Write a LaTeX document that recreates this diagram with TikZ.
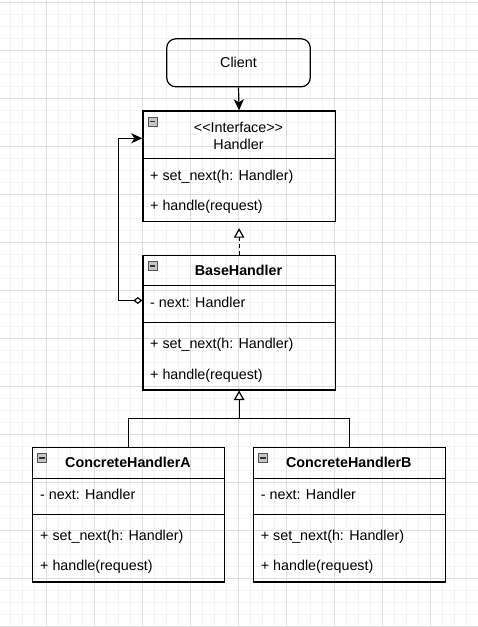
\documentclass[tikz,border=0pt]{standalone}
\usepackage{fontspec}
\setmainfont{Liberation Sans}[Ligatures=TeXOff]
\usetikzlibrary{arrows.meta}
\definecolor{gridmajor}{HTML}{DDDDDD}
\definecolor{gridminor}{HTML}{F3F3F3}
\newcommand\umlfont{\fontsize{14.3}{17}\selectfont}
\tikzset{
  gridminor/.style={draw=gridminor, line width=0.9pt},
  gridmajor/.style={draw=gridmajor, line width=0.9pt},
  classbox/.style={draw, line width=1.2pt, anchor=north west, inner sep=0pt},
  divider/.style={line width=1.2pt},
  member/.style={anchor=west, inner sep=0pt, font=\umlfont, text height=10pt, text depth=0pt},
  title/.style={inner sep=0pt, font=\umlfont, text height=10pt, text depth=0pt},
  assoc/.style={line width=1.2pt, -{Stealth[length=11pt,width=10pt,inset=3pt]}},
  realize/.style={line width=1.2pt, dash pattern=on 4pt off 3pt,
    -{Triangle[fill=white,length=9.5pt,width=10.5pt]}},
  inherit/.style={line width=1.2pt, -{Triangle[fill=white,length=9.5pt,width=10.5pt]}},
  aggr/.style={line width=1.2pt,
    {Diamond[fill=white,length=9pt,width=7pt]}-{Stealth[length=11pt,width=10pt,inset=3pt]}},
  collapse/.pic={
    \draw[draw=gray!65!black, fill=gray!45, line width=0.6pt] (5.5,6.7) rectangle (14.7,15.5);
    \draw[line width=1.3pt, draw=black!80] (7.3,11.1) -- (12.9,11.1);
  }
}
\begin{document}
\begin{tikzpicture}[x=1pt,y=-1pt]
  \useasboundingbox (0,0) rectangle (478,627);
  % background grid
  \foreach \gx in {10,22,...,478} \draw[gridminor] (\gx,0) -- (\gx,627);
  \foreach \gy in {2.7,14.7,...,627} \draw[gridminor] (0,\gy) -- (478,\gy);
  \foreach \gx in {46,94,...,478} \draw[gridmajor] (\gx,0) -- (\gx,627);
  \foreach \gy in {2.7,50.7,...,627} \draw[gridmajor] (0,\gy) -- (478,\gy);

  % client
  \node[draw, line width=1.2pt, rounded corners=9pt, minimum width=143.5pt,
    minimum height=48pt, font=\umlfont] (client) at (238.5,62.8) {Client};

  % interface
  \node[classbox, minimum width=192.4pt, minimum height=110.7pt] (handler) at (142.3,110.3) {};
  \pic at (handler.north west) {collapse};
  \draw[divider] (handler.west |- 0,158.7) -- (handler.east |- 0,158.7);
  \node[title] (handler-stereo) at (238.5,127) {<<Interface>>};
  \node[title] (handler-name) at (238.5,144) {Handler};
  \node[member] (handler-setnext) at (150,175.7) {+ set\_next(h: Handler)};
  \node[member] (handler-handle) at (150,205.7) {+ handle(request)};

  % base class
  \node[classbox, minimum width=192.4pt, minimum height=134.3pt] (base) at (142.3,255) {};
  \pic at (base.north west) {collapse};
  \draw[divider] (base.west |- 0,285.7) -- (base.east |- 0,285.7);
  \draw[divider] (base.west |- 0,322.3) -- (base.east |- 0,322.3);
  \node[title, font=\umlfont\bfseries] (base-name) at (238.5,270.7) {BaseHandler};
  \node[member] (base-next) at (150,302) {- next: Handler};
  \node[member] (base-setnext) at (150,343.3) {+ set\_next(h: Handler)};
  \node[member] (base-handle) at (150,374) {+ handle(request)};

  % concrete handlers
  \node[classbox, minimum width=192pt, minimum height=134.3pt] (cha) at (32,447) {};
  \pic at (cha.north west) {collapse};
  \draw[divider] (cha.west |- 0,478.3) -- (cha.east |- 0,478.3);
  \draw[divider] (cha.west |- 0,514.3) -- (cha.east |- 0,514.3);
  \node[title, font=\umlfont\bfseries] (cha-name) at (128,462.7) {ConcreteHandlerA};
  \node[member] (cha-next) at (40,494.3) {- next: Handler};
  \node[member] (cha-setnext) at (40,535.7) {+ set\_next(h: Handler)};
  \node[member] (cha-handle) at (40,565.7) {+ handle(request)};

  \node[classbox, minimum width=192.3pt, minimum height=134.3pt] (chb) at (252.7,447) {};
  \pic at (chb.north west) {collapse};
  \draw[divider] (chb.west |- 0,478.3) -- (chb.east |- 0,478.3);
  \draw[divider] (chb.west |- 0,514.3) -- (chb.east |- 0,514.3);
  \node[title, font=\umlfont\bfseries] (chb-name) at (348.8,462.7) {ConcreteHandlerB};
  \node[member] (chb-next) at (260.7,494.3) {- next: Handler};
  \node[member] (chb-setnext) at (260.7,535.7) {+ set\_next(h: Handler)};
  \node[member] (chb-handle) at (260.7,565.7) {+ handle(request)};

  % connectors
  \draw[assoc] (client.south) -- (handler.north);
  \draw[realize, shorten >=6pt] (base.north) -- (handler.south);
  \draw[aggr] ([yshift=-45.5pt]base.north west) -- ++(-24,0)
    |- ([yshift=-28pt]handler.north west);
  \coordinate (join) at (base.south |- 0,418.3);
  \draw[line width=1.2pt] (cha.north) |- (join) -| (chb.north);
  \draw[inherit] (join) -- (base.south);
\end{tikzpicture}
\end{document}
